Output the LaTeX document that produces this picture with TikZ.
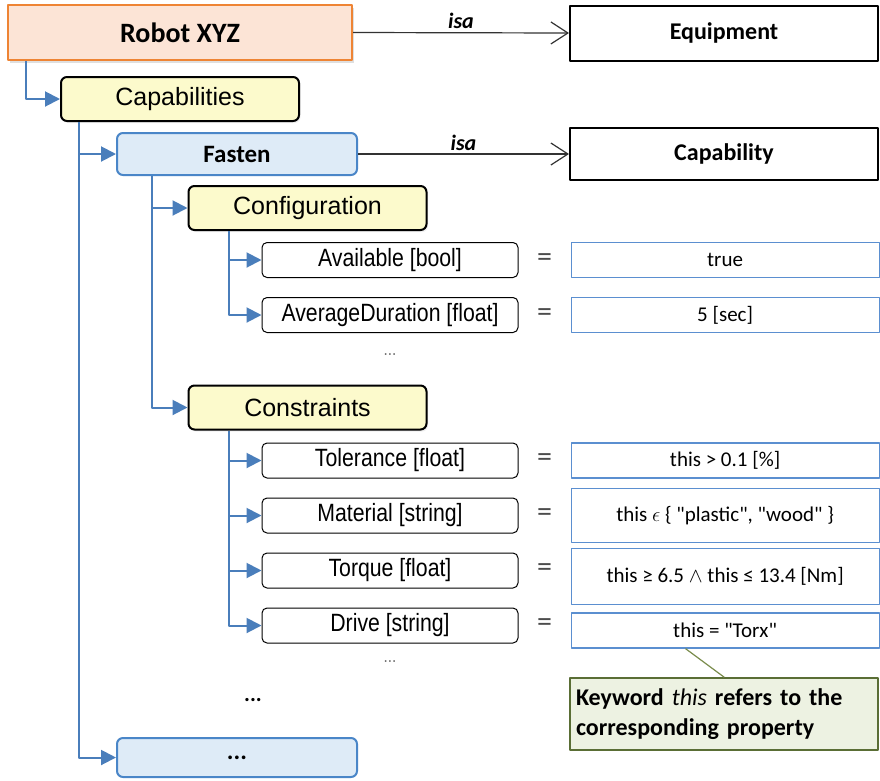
\documentclass[tikz,border=0pt]{standalone}
\usepackage{fontspec}
\setmainfont{Carlito}
\newfontfamily\arialfont{Liberation Sans}
\newfontfamily\narrowfont[FakeStretch=0.85]{Liberation Sans}
\usetikzlibrary{arrows.meta,positioning,shadows}

\definecolor{robotfill}{HTML}{FCE4D6}
\definecolor{robotdraw}{HTML}{EE8434}
\definecolor{groupfill}{HTML}{FCFACC}
\definecolor{capfill}{HTML}{DEEBF7}
\definecolor{capdraw}{HTML}{4A86C8}
\definecolor{valdraw}{HTML}{5B8FD0}
\definecolor{treeblue}{HTML}{4A7EBB}
\definecolor{notefill}{HTML}{EDF2E2}
\definecolor{notedraw}{HTML}{5A6E35}
\definecolor{noteline}{HTML}{7A8C4C}

\begin{document}
\begin{tikzpicture}[x=1pt,y=-1pt,line join=round]
  \tikzstyle{box}=[draw,inner sep=0pt,align=center]
  \tikzstyle{robot}=[box,fill=robotfill,draw=robotdraw,line width=2pt,minimum width=344pt,minimum height=55pt,
    font=\fontsize{28}{32}\selectfont\bfseries,drop shadow={opacity=0.25,shadow xshift=2pt,shadow yshift=-3pt}]
  \tikzstyle{type}=[box,line width=2pt,minimum width=308pt,font=\fontsize{24}{30}\selectfont\bfseries]
  \tikzstyle{group}=[box,rounded corners=6pt,fill=groupfill,line width=2pt,minimum width=238pt,minimum height=44pt,
    font=\arialfont\fontsize{25}{30}\selectfont,drop shadow={opacity=0.12,shadow xshift=1.5pt,shadow yshift=-2pt}]
  \tikzstyle{capab}=[box,rounded corners=6pt,fill=capfill,draw=capdraw,line width=2pt,minimum width=240pt,
    font=\fontsize{25}{30}\selectfont\bfseries]
  \tikzstyle{prop}=[box,rounded corners=5pt,line width=1pt,minimum width=256pt,minimum height=35pt,
    font=\narrowfont\fontsize{25}{30}\selectfont]
  \tikzstyle{value}=[box,draw=valdraw,line width=1.2pt,minimum width=308pt,minimum height=35pt,
    font=\fontsize{21}{26}\selectfont]
  \tikzstyle{equals}=[inner sep=0pt,minimum width=52pt,font=\fontsize{30}{32}\selectfont,text=black!70]
  \tikzstyle{dots}=[inner sep=0pt,font=\narrowfont\fontsize{18}{22}\selectfont,text=black!55]
  \tikzstyle{tree}=[draw=treeblue,line width=2pt,-{Triangle[length=15pt,width=15pt]}]
  \tikzstyle{isa}=[draw=black!80,line width=1.2pt,-{Straight Barb[length=17pt,width=22pt,line width=1.2pt]}]
  \tikzstyle{isalabel}=[above=2pt,inner sep=1pt,font=\fontsize{22}{26}\selectfont\bfseries\itshape]
  \tikzstyle{note}=[draw=notedraw,fill=notefill,line width=1.5pt,text width=296pt,inner xsep=6pt,inner ysep=3pt,
    minimum height=72pt,align=left,font=\fontsize{24}{30}\selectfont\bfseries]

  \useasboundingbox[fill=white] (0,0) rectangle (880,780);

  % object and its types
  \node[robot] (robot) at (180,32.5) {Robot XYZ};
  \node[type,minimum height=55pt] (equip) at (724,33) {Equipment};
  \node[group] (caps) at (180,99) {Capabilities};
  \node[capab,minimum height=42pt] (fasten) at (237,154) {Fasten};
  \node[type,minimum height=52pt] (capty) at (724,154) {Capability};

  % configuration
  \node[group] (config) at (307.5,208) {Configuration};
  \node[prop] (avail) at (390,260) {Available [bool]};
  \node[prop] (avgdur) [below=19pt of avail] {AverageDuration [float]};
  \node[dots] (confdots) at (390,355) {...};

  % constraints
  \node[group] (constr) at (307.5,407.5) {Constraints};
  \node[prop] (tol) at (390,460.5) {Tolerance [float]};
  \node[prop] (mat) [below=19pt of tol] {Material [string]};
  \node[prop] (torq) [below=19pt of mat] {Torque [float]};
  \node[prop] (drive) [below=19pt of torq] {Drive [string]};
  \node[dots] (constrdots) at (390,662) {...};

  % values
  \node[value] (truev) [right=52pt of avail] {true};
  \node[value] (secv) [right=52pt of avgdur] {5 [sec]};
  \node[value] (tolv) [right=52pt of tol] {this > 0.1 [\%]};
  \node[value,minimum height=54pt] (matv) [right=52pt of mat]
    {this \ensuremath{\epsilon} \{ \textquotedbl plastic\textquotedbl, \textquotedbl wood\textquotedbl\ \}};
  \node[value,minimum height=56pt] (torqv) [right=52pt of torq,yshift=-6pt] {this ≥ 6.5 \ensuremath{\wedge} this ≤ 13.4 [Nm]};
  \node[value] (drivev) [right=52pt of drive,yshift=-5pt] {this = \textquotedbl Torx\textquotedbl};
  \foreach \p in {avail,avgdur,tol,mat,torq,drive}
    \node[equals,right=0pt of \p] (eq-\p) {=};

  % further capabilities
  \node[font=\fontsize{22}{26}\selectfont\bfseries] (moredots) at (253,700) {...};
  \node[capab,minimum height=39pt] (more) at (237,757.5) {...};

  % remark
  \node[note] (note) at (724,714) {Keyword \textit{\mdseries this} refers to the\\corresponding property};
  \draw[noteline,line width=1.2pt] ([xshift=115pt]drivev.south west) -- ([xshift=155pt]note.north west);

  % tree
  \draw[tree] ([xshift=19pt]robot.south west) |- (caps.west);
  \draw[tree] ([xshift=19pt]caps.south west) |- (fasten.west);
  \draw[tree] ([xshift=19pt]caps.south west) |- (more.west);
  \draw[tree] ([xshift=36pt]fasten.south west) |- (config.west);
  \draw[tree] ([xshift=36pt]fasten.south west) |- (constr.west);
  \draw[tree] ([xshift=41pt]config.south west) |- (avail.west);
  \draw[tree] ([xshift=41pt]config.south west) |- (avgdur.west);
  \foreach \p in {tol,mat,torq,drive}
    \draw[tree] ([xshift=41pt]constr.south west) |- (\p.west);

  % isa
  \path (robot.east) edge[isa] node[isalabel] {isa} (equip.west)
        (fasten.east) edge[isa] node[isalabel] {isa} (capty.west);
\end{tikzpicture}
\end{document}
